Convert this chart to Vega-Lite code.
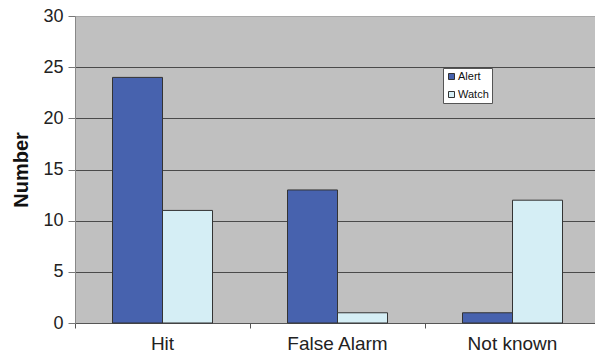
{
  "$schema": "https://vega.github.io/schema/vega-lite/v6.json",
  "autosize": {"type": "none"},
  "padding": {"left": 75, "top": 16, "right": 0, "bottom": 32},
  "width": 525,
  "height": 307,
  "background": "white",
  "data": {
    "values": [
      {"outcome": "Hit", "level": "Alert", "count": 24},
      {"outcome": "Hit", "level": "Watch", "count": 11},
      {"outcome": "False Alarm", "level": "Alert", "count": 13},
      {"outcome": "False Alarm", "level": "Watch", "count": 1},
      {"outcome": "Not known", "level": "Alert", "count": 1},
      {"outcome": "Not known", "level": "Watch", "count": 12}
    ]
  },
  "mark": {"type": "bar", "stroke": "#333333", "strokeWidth": 1},
  "encoding": {
    "x": {
      "field": "outcome",
      "type": "nominal",
      "sort": ["Hit", "False Alarm", "Not known"],
      "scale": {"paddingInner": 0, "paddingOuter": 0},
      "axis": {
        "title": null,
        "labelAngle": 0,
        "bandPosition": 0,
        "labelFont": "Liberation Sans",
        "labelFontSize": 19,
        "labelColor": "#222222",
        "labelPadding": 6,
        "tickSize": 5,
        "tickColor": "#555555",
        "domainColor": "#555555",
        "grid": false
      }
    },
    "xOffset": {
      "field": "level",
      "type": "nominal",
      "scale": {"paddingInner": 0, "paddingOuter": 0.75}
    },
    "y": {
      "field": "count",
      "type": "quantitative",
      "scale": {"domain": [0, 30], "nice": false},
      "axis": {
        "title": "Number",
        "titleFont": "Liberation Sans",
        "titleFontSize": 20,
        "titleFontWeight": "bold",
        "titleColor": "#111111",
        "titlePadding": 11,
        "values": [0, 5, 10, 15, 20, 25, 30],
        "labelFont": "Liberation Sans",
        "labelFontSize": 18,
        "labelColor": "#222222",
        "labelPadding": 5,
        "tickSize": 7,
        "tickColor": "#777777",
        "domainColor": "#888888",
        "grid": true,
        "gridColor": {"condition": {"test": "datum.value == 30", "value": "#a8a8a8"}, "value": "#4a4a4a"},
        "gridWidth": 1
      }
    },
    "color": {
      "field": "level",
      "type": "nominal",
      "scale": {"domain": ["Alert", "Watch"], "range": ["#4762ae", "#d5eef5"]},
      "legend": {
        "title": null,
        "orient": "none",
        "legendX": 368,
        "legendY": 52,
        "symbolType": "square",
        "symbolSize": 36,
        "symbolStrokeColor": "#333333",
        "symbolStrokeWidth": 1,
        "symbolOffset": 0,
        "labelFont": "Liberation Sans",
        "labelFontSize": 11,
        "labelColor": "#111111",
        "labelOffset": 1,
        "rowPadding": 6,
        "padding": 3,
        "fillColor": "white",
        "strokeColor": "#555555"
      }
    }
  },
  "config": {
    "view": {"fill": "#c0c0c0", "stroke": null},
    "axis": {"domainWidth": 1, "tickWidth": 1}
  }
}
